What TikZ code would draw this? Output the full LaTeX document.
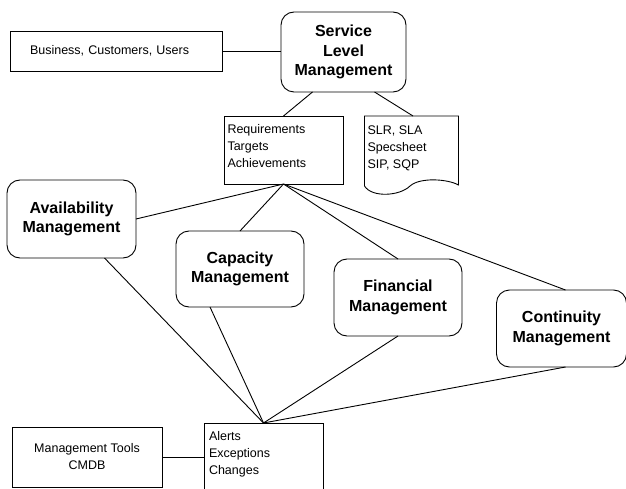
\documentclass[tikz,border=0pt]{standalone}
\usepackage{fontspec}
\setmainfont{Liberation Sans}
\usetikzlibrary{calc}
\begin{document}
\begin{tikzpicture}[x=1pt,y=-1pt,line width=0.9pt,
  every node/.style={inner sep=0pt, outer sep=0pt},
  rbox/.style={draw, rounded corners=13pt, align=center,
    font=\fontsize{16}{19.5}\selectfont\bfseries},
  pbox/.style={draw, font=\fontsize{12.5}{17}\selectfont},
  plain/.style={font=\fontsize{12.5}{17}\selectfont},
  conn/.style={draw, line width=0.9pt}]
\useasboundingbox (0,0) rectangle (626,489);

% top
\node[pbox, minimum width=212pt, minimum height=40pt, text width=172pt,
  inner xsep=20pt, align=left] (biz) at (116,51) {Business, Customers, Users};
\node[rbox, minimum width=125pt, minimum height=80pt] (slm) at (343.5,52)
  {Service\\Level\\Management};
\node[minimum width=119pt, minimum height=68pt, draw] (req) at (283.5,150) {};
\node[plain, anchor=north west, align=left] (reqtext) at (227.5,124)
  {Requirements\\Targets\\Achievements};

% document shape
\coordinate (doctop) at (413,116);
\node[plain, anchor=north west, align=left] (doc) at (367.5,126)
  {SLR, SLA\\Specsheet\\SIP, SQP};
\draw (364.5,186) -- (364.5,116) -- (458.5,116) -- (458.5,185)
  .. controls (448,179) and (420,177) .. (410,186)
  .. controls (400,196) and (372,198) .. (364.5,186);

% middle boxes
\node[rbox, minimum width=129pt, minimum height=78pt] (avail) at (71.5,219)
  {Availability\\Management};
\node[rbox, minimum width=128pt, minimum height=76pt] (cap) at (240,269)
  {Capacity\\Management};
\node[rbox, minimum width=128pt, minimum height=77pt] (fin) at (398,297.5)
  {Financial\\Management};
\node[rbox, minimum width=130pt, minimum height=77pt] (cont) at (561.5,328.5)
  {Continuity\\Management};

% bottom
\node[pbox, minimum width=150pt, minimum height=60pt, align=center] (mgmt) at (87,457)
  {Management Tools\\CMDB};
\node[minimum width=119pt, minimum height=66pt] (alerts) at (263.5,456) {};
\draw (alerts.south west) -- (alerts.north west) -- (alerts.north east) -- (alerts.south east);
\node[plain, anchor=north west, align=left] (alerttext) at (209,431)
  {Alerts\\Exceptions\\Changes};

% connectors
\draw[conn] (biz.east) -- (biz.east -| slm.west);
\draw[conn] ($(slm.south)+(-31,0)$) -- (req.north);
\draw[conn] ($(slm.south)+(31,0)$) -- (doctop);
\draw[conn] (req.south) -- (avail.east);
\draw[conn] (req.south) -- (cap.north);
\draw[conn] (req.south) -- (fin.north);
\draw[conn] (req.south) -- ($(cont.north)+(4,0)$);
\draw[conn] ($(avail.south)+(33,0)$) -- (alerts.north);
\draw[conn] ($(cap.south)+(-30,0)$) -- (alerts.north);
\draw[conn] (fin.south) -- (alerts.north);
\draw[conn] ($(cont.south)+(4,0)$) -- (alerts.north);
\draw[conn] (mgmt.east) -- (mgmt.east -| alerts.west);
\end{tikzpicture}
\end{document}
